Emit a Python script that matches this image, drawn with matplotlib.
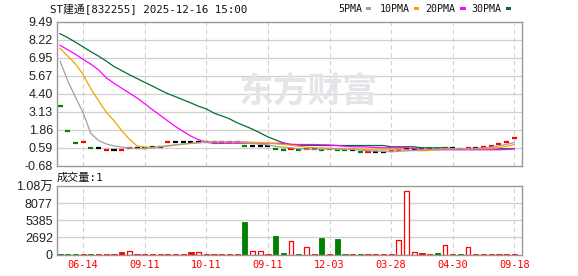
import matplotlib
matplotlib.use("Agg")
import matplotlib.pyplot as plt
from matplotlib.patches import Rectangle
import numpy as np

# ---- data ----
closes = [3.52, 1.78, 0.94, 1.01, 0.59, 0.59, 0.45, 0.45, 0.45, 0.59,
          0.59, 0.59, 0.63, 0.63, 1.01, 1.01, 1.01, 1.01, 1.01, 1.01,
          1.01, 1.01, 1.01, 1.01, 0.73, 0.73, 0.73, 0.73, 0.52, 0.45,
          0.52, 0.45, 0.52, 0.52, 0.45, 0.52, 0.45, 0.45, 0.45, 0.26,
          0.31, 0.31, 0.31, 0.38, 0.45, 0.47, 0.47, 0.50, 0.52, 0.52,
          0.55, 0.55, 0.52, 0.59, 0.59, 0.66, 0.73, 0.89, 1.01, 1.29]
candle_colors = list("gggrgkrkrr" "kkkkrkkkkk" "kkkkgkkkgg" "rgrkgrggkg"
                     "rkkrrkkrrg" "rkgrkrrrrr")

ma5 = [6.70, 5.30, 4.15, 3.05, 1.60, 1.10, 0.86, 0.72, 0.64, 0.58,
       0.54, 0.54, 0.60, 0.66, 0.74, 0.80, 0.86, 0.90, 0.95, 0.98,
       1.00, 1.01, 1.01, 1.01, 0.95, 0.90, 0.84, 0.79, 0.69, 0.63,
       0.59, 0.53, 0.49, 0.49, 0.49, 0.50, 0.49, 0.48, 0.47, 0.43,
       0.38, 0.36, 0.33, 0.31, 0.34, 0.37, 0.40, 0.44, 0.46, 0.50,
       0.50, 0.51, 0.52, 0.52, 0.55, 0.58, 0.63, 0.72, 0.84, 0.96]
ma10 = [7.60, 7.05, 6.50, 5.75, 4.75, 3.90, 3.10, 2.50, 1.80, 1.20,
        0.72, 0.64, 0.62, 0.66, 0.70, 0.78, 0.84, 0.90, 0.94, 1.00,
        1.01, 1.01, 1.01, 1.01, 1.01, 0.98, 0.95, 0.92, 0.87, 0.82,
        0.77, 0.70, 0.62, 0.59, 0.57, 0.55, 0.52, 0.52, 0.52, 0.50,
        0.45, 0.45, 0.45, 0.45, 0.45, 0.45, 0.40, 0.38, 0.40, 0.47,
        0.52, 0.52, 0.52, 0.52, 0.52, 0.52, 0.55, 0.59, 0.70, 0.82]
ma20 = [7.81, 7.50, 7.18, 6.82, 6.48, 6.08, 5.52, 5.14, 4.79, 4.45,
        4.10, 3.69, 3.28, 2.88, 2.48, 2.08, 1.74, 1.41, 1.16, 0.99,
        0.89, 0.90, 0.91, 0.91, 0.91, 0.91, 0.91, 0.91, 0.91, 0.90,
        0.84, 0.82, 0.82, 0.82, 0.80, 0.79, 0.75, 0.70, 0.66, 0.66,
        0.64, 0.61, 0.59, 0.59, 0.59, 0.59, 0.55, 0.45, 0.45, 0.45,
        0.45, 0.45, 0.45, 0.45, 0.45, 0.45, 0.45, 0.45, 0.47, 0.52]
ma30 = [8.63, 8.35, 8.03, 7.70, 7.36, 7.05, 6.70, 6.32, 6.03, 5.74,
        5.47, 5.20, 4.94, 4.66, 4.40, 4.19, 3.97, 3.75, 3.51, 3.33,
        3.03, 2.84, 2.63, 2.35, 2.13, 1.90, 1.63, 1.36, 1.14, 0.94,
        0.80, 0.77, 0.76, 0.76, 0.75, 0.75, 0.75, 0.75, 0.75, 0.75,
        0.75, 0.75, 0.75, 0.66, 0.66, 0.66, 0.66, 0.59, 0.59, 0.59,
        0.59, 0.52, 0.52, 0.52, 0.52, 0.52, 0.52, 0.52, 0.52, 0.52]

volume = [120, 120, 120, 120, 120, 120, 120, 120, 380, 550,
          120, 120, 120, 120, 120, 120, 120, 380, 450, 120,
          120, 120, 120, 120, 5100, 550, 550, 120, 2900, 250,
          2130, 120, 1180, 120, 2640, 120, 2480, 150, 120, 120,
          120, 120, 120, 120, 2290, 10060, 400, 300, 120, 300,
          1500, 120, 150, 1230, 120, 120, 120, 120, 120, 120]
# g = green filled, r = red filled, h = red hollow
vol_style = list("gggrgrrrrh" "rrrrrrrrhr" "rrrrghhrgg" "hghrgrggrg"
                 "rrrrhhhrrg" "hrghrrrrrr")

price_ticks = [-0.68, 0.59, 1.86, 3.13, 4.40, 5.67, 6.95, 8.22, 9.49]
vol_ticks = [0, 2692, 5385, 8077, 10770]
vol_labels = ["0", "2692", "5385", "8077", "1.08万"]
date_pos = [3, 11, 19, 27, 35, 43, 51, 59]
date_labels = ["06-14", "09-11", "10-11", "09-11", "12-03", "03-28", "04-30", "09-18"]

W, H = 578, 276
fig = plt.figure(figsize=(W / 100, H / 100), dpi=100)
fig.patch.set_facecolor("white")

def fx(x):
    return x / W

def fy(y):
    return 1 - y / H

cmap = {"g": "#008000", "r": "#ff0000", "k": "#000000"}
grid_c = "#d0d0d0"
frame_c = "#999999"
mono = ["DejaVu Sans Mono", "Noto Sans CJK SC"]
sans = ["Liberation Sans", "Noto Sans CJK SC"]

ax = fig.add_axes([fx(57), fy(165.8), fx(465), (165.8 - 21.5) / H])
av = fig.add_axes([fx(57), fy(254.5), fx(465), (254.5 - 186.3) / H])

x = np.arange(len(closes))
for a in (ax, av):
    a.set_xlim(-0.4, 60.0)
    for s in a.spines.values():
        s.set_color(frame_c)
        s.set_linewidth(1.0)
    for p in date_pos:
        a.axvline(p, color=grid_c, lw=0.8, ls=(0, (4, 3)), zorder=0)
    a.tick_params(length=0, pad=3)

# main panel
ax.set_ylim(price_ticks[0], price_ticks[-1])
ax.set_yticks(price_ticks)
ax.set_yticklabels(["%.2f" % t for t in price_ticks], family=sans, fontsize=9, color="#222222")
ax.set_xticks([])
for t in price_ticks[1:-1]:
    ax.axhline(t, color=grid_c, lw=0.9, zorder=0)

ax.text(0.54, 0.515, "东方财富", transform=ax.transAxes, fontsize=25, fontweight="bold",
        color="#e4e4e9", ha="center", va="center", family=["Noto Sans CJK SC"], zorder=0)

ax.hlines(closes, x - 0.33, x + 0.33, colors=[cmap[c] for c in candle_colors], lw=1.6, zorder=2)
ax.plot(x, ma30, color="#006e2e", lw=0.9, zorder=3)
ax.plot(x, ma20, color="#ff00ff", lw=0.9, zorder=3)
ax.plot(x, ma10, color="#f5a200", lw=0.9, zorder=3)
ax.plot(x, ma5, color="#a0a0a0", lw=0.9, zorder=3)

# volume panel
av.set_ylim(0, 10770)
av.set_yticks(vol_ticks)
av.set_yticklabels(vol_labels, family=sans, fontsize=9, color="#222222")
for t in vol_ticks[1:-1]:
    av.axhline(t, color=grid_c, lw=0.9, zorder=0)
av.set_xticks(date_pos)
av.set_xticklabels(date_labels, family=mono, fontsize=7.4, color="#ff0000")
av.tick_params(axis="x", pad=4)

for i, (v, st) in enumerate(zip(volume, vol_style)):
    if st == "h":
        av.bar(i, v, width=0.62, facecolor="white", edgecolor="#ff0000", lw=0.9, zorder=2)
    else:
        c = cmap[st]
        av.bar(i, v, width=0.68, color=c, edgecolor=c, lw=0.6, zorder=2)

# header texts
fig.text(fx(50), fy(9), "ST建通[832255] 2025-12-16 15:00", family=mono, fontsize=7.8,
         ha="left", va="center", color="#111111")
legend_items = [("5PMA", 338, 365.5, "#a0a0a0"), ("10PMA", 380, 413.5, "#f5a200"),
                ("20PMA", 425.5, 460, "#ff00ff"), ("30PMA", 471.5, 505.5, "#006e2e")]
for name, tx, mx, col in legend_items:
    fig.text(fx(tx), fy(8.5), name, family=mono, fontsize=7.2, ha="left", va="center", color="#111111")
    fig.patches.append(Rectangle((fx(mx), fy(10)), 5.5 / W, 2.8 / H, transform=fig.transFigure,
                                 facecolor=col, edgecolor="none"))

fig.text(fx(57), fy(177.5), "成交量:1", family=mono, fontsize=8, ha="left", va="center", color="#111111")

fig.savefig("out.png", dpi=100, facecolor="white")
